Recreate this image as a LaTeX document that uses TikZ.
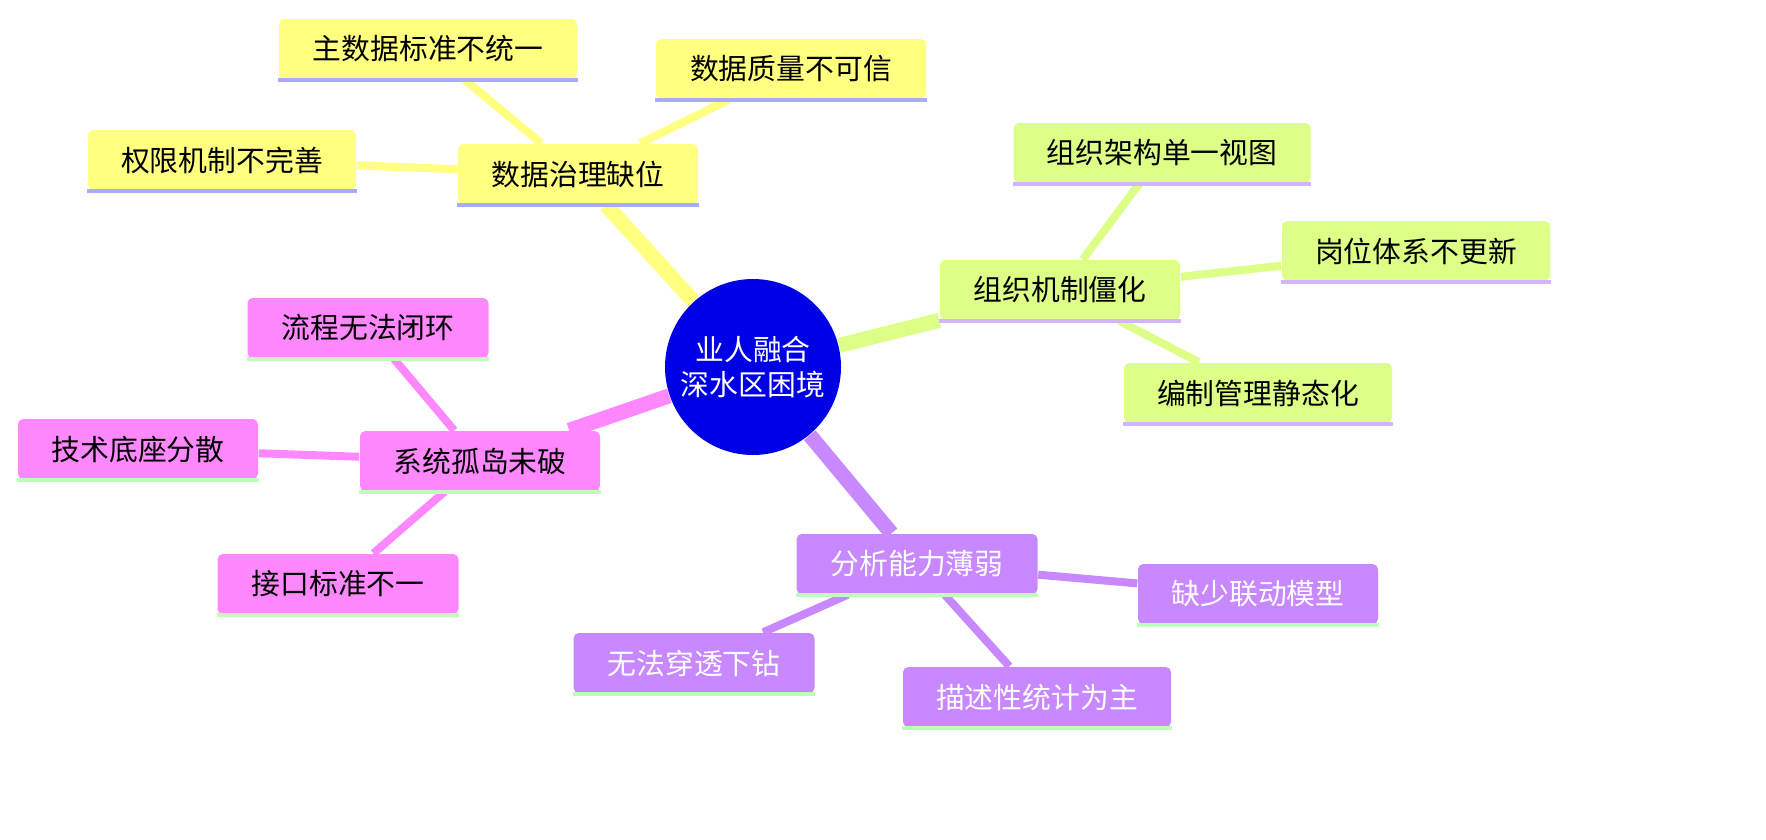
\documentclass[tikz,border=0pt]{standalone}
\usepackage{fontspec}
\newfontfamily\cjk{Noto Sans CJK SC}
\usetikzlibrary{backgrounds}
\definecolor{hubblue}{RGB}{0,0,230}
\definecolor{govyellow}{RGB}{255,255,128}
\definecolor{orggreen}{RGB}{221,255,136}
\definecolor{syspink}{RGB}{255,136,255}
\definecolor{anapurple}{RGB}{200,136,255}
\definecolor{lineblue}{RGB}{170,170,255}
\definecolor{linelav}{RGB}{210,180,255}
\definecolor{linegreen}{RGB}{190,255,190}
\begin{document}
\begin{tikzpicture}
[x=0.1mm, y=-0.1mm,
font=\cjk\fontsize{8.2pt}{10pt}\selectfont,
hub/.style={circle, fill=hubblue, text=white, minimum size=17.6mm, inner sep=0pt, align=center},
topic/.style={rectangle, rounded corners=1.5pt, minimum height=6mm, inner sep=0pt},
gov/.style={topic, fill=govyellow},
org/.style={topic, fill=orggreen},
sys/.style={topic, fill=syspink},
ana/.style={topic, fill=anapurple, text=white},
trunk/.style={line width=1.5mm},
twig/.style={line width=0.8mm}]

\useasboundingbox (0,0) rectangle (1766,839);

\node[hub] (hub) at (753,367) {业人融合\\深水区困境};

% data governance
\node[gov, minimum width=24mm] (gov) at (578,174) {数据治理缺位};
\node[gov, minimum width=29.8mm] (gov1) at (428,49) {主数据标准不统一};
\node[gov, minimum width=27mm] (gov2) at (791,69) {数据质量不可信};
\node[gov, minimum width=26.8mm] (gov3) at (222,160) {权限机制不完善};

% organisation
\node[org, minimum width=24mm] (org) at (1060,290) {组织机制僵化};
\node[org, minimum width=29.7mm] (org1) at (1162,153) {组织架构单一视图};
\node[org, minimum width=26.8mm] (org2) at (1416,251) {岗位体系不更新};
\node[org, minimum width=26.8mm] (org3) at (1258,393) {编制管理静态化};

% systems
\node[sys, minimum width=24mm] (sys) at (480,461) {系统孤岛未破};
\node[sys, minimum width=24.1mm] (sys1) at (368,328) {流程无法闭环};
\node[sys, minimum width=24mm] (sys2) at (138,449) {技术底座分散};
\node[sys, minimum width=24.1mm] (sys3) at (338,584) {接口标准不一};

% analysis
\node[ana, minimum width=24.1mm] (ana) at (917,564) {分析能力薄弱};
\node[ana, minimum width=24mm] (ana1) at (1258,594) {缺少联动模型};
\node[ana, minimum width=24.1mm] (ana2) at (694,663) {无法穿透下钻};
\node[ana, minimum width=26.8mm] (ana3) at (1037,697) {描述性统计为主};

\foreach \n/\c in {gov/lineblue,gov1/lineblue,gov2/lineblue,gov3/lineblue,
  org/linelav,org1/linelav,org2/linelav,org3/linelav,
  sys/linegreen,sys1/linegreen,sys2/linegreen,sys3/linegreen,
  ana/linegreen,ana1/linegreen,ana2/linegreen,ana3/linegreen}
  \draw[\c, line width=0.4mm] (\n.south west) -- (\n.south east);

\begin{scope}[on background layer]
\draw[trunk, govyellow] (hub) -- (gov);
\draw[trunk, orggreen] (hub) -- (org);
\draw[trunk, syspink] (hub) -- (sys);
\draw[trunk, anapurple] (hub) -- (ana);
\foreach \p/\c in {gov/govyellow, org/orggreen, sys/syspink, ana/anapurple}
  \foreach \k in {1,2,3}
    \draw[twig, \c] (\p) -- (\p\k);
\end{scope}
\end{tikzpicture}
\end{document}
